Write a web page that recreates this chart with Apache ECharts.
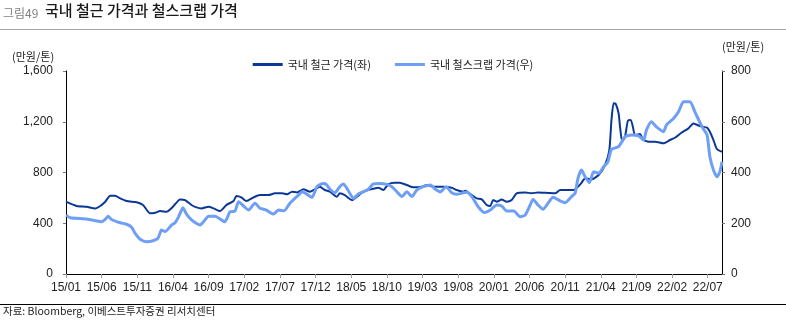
<!DOCTYPE html>
<html>
<head>
<meta charset="utf-8">
<script src="https://cdn.jsdelivr.net/npm/echarts@6/dist/echarts.min.js"></script>
<style>
  html, body { margin: 0; padding: 0; background: #fff; }
  #chart { width: 786px; height: 322px; }
</style>
</head>
<body>
<div id="chart"></div>
<script>
// Months counted from January 2015 (0 = 15/01)
const rebarMonths = [0, 1.5, 2.9, 4.1, 4.8, 5.5, 6.2, 6.9, 7.6, 8.5, 9.9, 10.8, 11.8, 12.5, 13.2, 14.1, 15.0, 16.0, 16.7, 17.6, 18.2, 19.0, 20.0, 20.7, 21.6, 22.5, 23.5, 23.9, 24.6, 25.3, 26.3, 27.2, 28.4, 29.3, 30.3, 31.0, 31.7, 32.4, 33.3, 34.2, 34.9, 35.6, 36.3, 37.0, 38.0, 38.4, 39.1, 40.1, 40.8, 41.7, 42.7, 43.8, 44.5, 45.2, 46.1, 46.8, 47.8, 48.7, 49.9, 50.6, 51.5, 52.9, 54.1, 54.8, 55.7, 56.0, 56.9, 57.6, 58.3, 59.0, 59.5, 59.9, 60.4, 61.1, 61.8, 62.5, 63.2, 64.4, 65.3, 66.2, 67.6, 68.6, 69.3, 70.4, 71.2, 71.8, 72.3, 72.8, 73.7, 74.7, 75.6, 76.2, 76.5, 76.8, 77.1, 77.5, 77.7, 78.0, 78.4, 78.8, 79.2, 79.5, 79.8, 80.5, 80.9, 81.7, 82.6, 83.8, 84.7, 85.4, 86.3, 87.3, 88.0, 88.9, 89.9, 90.3, 90.8, 91.3, 92.0];
// 국내 철근 가격 (만원/톤, left axis)
const rebarPrices = [570, 536, 530, 517, 536, 570, 617, 617, 596, 575, 565, 544, 478, 483, 496, 491, 530, 588, 583, 544, 527, 517, 530, 517, 496, 544, 575, 615, 604, 575, 604, 622, 622, 636, 636, 628, 649, 643, 667, 649, 667, 688, 662, 649, 609, 636, 622, 583, 609, 649, 667, 680, 662, 707, 719, 719, 701, 683, 688, 701, 688, 688, 680, 662, 649, 657, 622, 596, 588, 544, 536, 583, 570, 588, 570, 583, 636, 643, 636, 643, 639, 636, 662, 662, 662, 688, 719, 754, 746, 780, 859, 977, 1214, 1345, 1340, 1266, 1161, 1043, 1082, 1208, 1214, 1161, 1095, 1103, 1061, 1043, 1043, 1030, 1056, 1074, 1113, 1148, 1187, 1166, 1153, 1121, 1056, 983, 964];

const scrapMonths = [0, 0.6, 2.9, 4.3, 5.0, 5.5, 5.9, 6.4, 7.6, 8.5, 9.2, 9.7, 10.4, 11.3, 12.2, 12.9, 13.4, 13.9, 14.8, 15.3, 15.8, 16.4, 16.9, 17.6, 18.2, 18.8, 19.3, 20.0, 20.9, 21.8, 22.3, 23.0, 23.7, 24.2, 24.9, 25.6, 26.5, 27.2, 28.1, 29.1, 29.8, 30.6, 31.4, 32.1, 32.6, 33.1, 33.8, 34.5, 35.2, 36.1, 36.5, 37.0, 37.7, 38.4, 38.9, 39.6, 40.3, 41.0, 41.7, 42.4, 43.1, 44.0, 45.0, 45.7, 46.4, 47.1, 47.8, 48.5, 49.2, 50.1, 51.1, 51.8, 52.5, 53.3, 54.1, 54.8, 55.7, 56.2, 56.9, 57.8, 58.7, 59.5, 60.4, 61.1, 61.8, 62.8, 63.7, 64.4, 65.1, 65.5, 66.2, 66.9, 67.6, 68.3, 69.3, 70.0, 70.9, 71.4, 71.8, 72.3, 72.8, 73.4, 74.0, 74.7, 75.4, 76.0, 76.5, 77.5, 78.4, 79.3, 80.3, 81.0, 81.4, 82.1, 82.8, 83.8, 84.2, 85.2, 85.9, 86.6, 87.5, 88.2, 89.2, 89.9, 90.3, 90.8, 91.3, 91.7, 92.0];
// 국내 철스크랩 가격 (만원/톤, right axis)
const scrapPrices = [232, 222, 217, 209, 206, 215, 228, 215, 202, 196, 184, 160, 137, 127, 131, 141, 173, 167, 193, 202, 226, 261, 236, 213, 201, 193, 206, 228, 228, 213, 206, 245, 248, 285, 268, 252, 279, 259, 252, 236, 252, 249, 279, 298, 311, 324, 314, 302, 344, 357, 353, 335, 320, 344, 355, 328, 298, 315, 324, 334, 355, 357, 353, 344, 324, 305, 324, 305, 331, 344, 351, 334, 324, 344, 320, 314, 320, 322, 305, 265, 242, 252, 272, 268, 248, 248, 226, 232, 272, 294, 272, 255, 279, 302, 288, 281, 305, 318, 377, 410, 383, 360, 403, 397, 423, 442, 491, 502, 541, 548, 544, 528, 567, 600, 580, 561, 587, 613, 639, 679, 679, 639, 580, 548, 462, 410, 383, 403, 442];

// Tick labels every five months
const tickLabels = ['15/01', '15/06', '15/11', '16/04', '16/09', '17/02', '17/07', '17/12', '18/05', '18/10', '19/03', '19/08', '20/01', '20/06', '20/11', '21/04', '21/09', '22/02', '22/07'];

const seriesNames = ['국내 철근 가격(좌)', '국내 철스크랩 가격(우)'];
const unitLabel = '(만원/톤)';
const figureNo = '그림49';
const figureTitle = '국내 철근 가격과 철스크랩 가격';
const sourceText = '자료: Bloomberg, 이베스트투자증권 리서치센터';

const pair = (xs, ys) => xs.map((x, i) => [x, ys[i]]);

const NUM_FONT = "'Liberation Sans Narrow', 'Liberation Sans', Arial, sans-serif";
const KR_FONT = "'Noto Sans CJK KR', 'Noto Sans', sans-serif";
const DARK = '#0b3896';
const LIGHT = '#6e9ff5';

const chart = echarts.init(document.getElementById('chart'), null, { renderer: 'canvas' });

chart.setOption({
  animation: false,
  backgroundColor: '#fff',
  grid: { left: 66, right: 64, top: 71, bottom: 48, containLabel: false },
  legend: {
    top: 54,
    left: 'center',
    itemWidth: 30,
    itemHeight: 3,
    itemGap: 24,
    icon: 'rect',
    textStyle: { fontFamily: KR_FONT, fontSize: 11, color: '#222' },
    data: seriesNames
  },
  xAxis: {
    type: 'value',
    min: 0,
    max: 92,
    interval: 5,
    splitLine: { show: false },
    axisLine: { show: true, lineStyle: { color: '#000', width: 1 } },
    axisTick: { show: true, length: 4, lineStyle: { color: '#999' } },
    axisLabel: {
      showMaxLabel: false,
      margin: 8,
      fontFamily: NUM_FONT,
      fontSize: 12,
      color: '#222',
      formatter: v => (v % 5 === 0 && tickLabels[v / 5]) ? tickLabels[v / 5] : ''
    }
  },
  yAxis: [
    {
      type: 'value',
      min: 0, max: 1600, interval: 400,
      splitLine: { show: false },
      axisLine: { show: true, lineStyle: { color: '#000', width: 1 } },
      axisTick: { show: true, length: 3, lineStyle: { color: '#777' } },
      axisLabel: {
        margin: 13,
        fontFamily: NUM_FONT, fontSize: 12, color: '#222',
        formatter: v => v.toLocaleString('en-US')
      }
    },
    {
      type: 'value',
      min: 0, max: 800, interval: 200,
      position: 'right',
      splitLine: { show: false },
      axisLine: { show: true, lineStyle: { color: '#000', width: 1 } },
      axisTick: { show: true, length: 3, lineStyle: { color: '#777' } },
      axisLabel: { margin: 9, fontFamily: NUM_FONT, fontSize: 12, color: '#222' }
    }
  ],
  graphic: [
    { type: 'text', left: 3, top: 7, style: { text: figureNo, font: "12px " + KR_FONT, fill: '#808080' } },
    { type: 'text', left: 45, top: 3, style: { text: figureTitle, font: "500 15px " + KR_FONT, fill: '#1a1a1a' } },
    { type: 'rect', left: 0, top: 29, shape: { width: 786, height: 1 }, style: { fill: '#a6a6a6' } },
    { type: 'text', left: 12, top: 51, style: { text: unitLabel, font: "11px " + KR_FONT, fill: '#222' } },
    { type: 'text', left: 722, top: 41, style: { text: unitLabel, font: "11px " + KR_FONT, fill: '#222' } },
    { type: 'rect', left: 0, top: 304, shape: { width: 786, height: 1 }, style: { fill: '#000' } },
    { type: 'text', left: 3, top: 306, style: { text: sourceText, font: "10.5px " + KR_FONT, fill: '#222' } }
  ],
  series: [
    {
      name: seriesNames[0],
      type: 'line',
      yAxisIndex: 0,
      data: pair(rebarMonths, rebarPrices),
      showSymbol: false,
      smooth: 0.2,
      color: DARK,
      lineStyle: { width: 2, color: DARK },
      z: 2
    },
    {
      name: seriesNames[1],
      type: 'line',
      yAxisIndex: 1,
      data: pair(scrapMonths, scrapPrices),
      showSymbol: false,
      smooth: 0.2,
      color: LIGHT,
      lineStyle: { width: 3, color: LIGHT },
      z: 3
    }
  ]
});
</script>
</body>
</html>
